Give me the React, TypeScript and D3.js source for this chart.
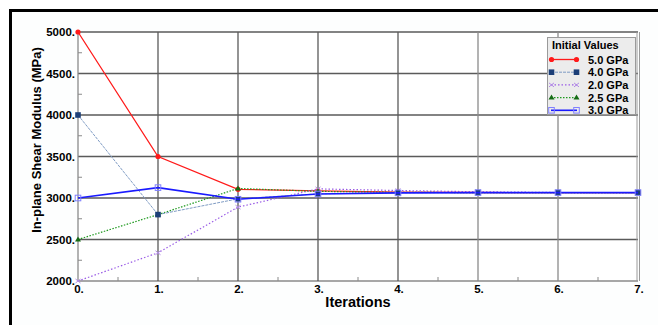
import React from "react";
import * as d3 from "d3";

// iterations on the x axis
const iterations = [0, 1, 2, 3, 4, 5, 6, 7];

// in-plane shear modulus (MPa) per starting value
const g50 = [5000, 3500, 3105, 3085, 3070, 3066, 3065, 3065];
const g40 = [4000, 2800, 2990, 3050, 3062, 3065, 3065, 3065];
const g20 = [2000, 2340, 2890, 3110, 3090, 3075, 3066, 3065];
const g25 = [2500, 2800, 3115, 3080, 3068, 3065, 3065, 3065];
const g30 = [3000, 3125, 2985, 3048, 3062, 3065, 3065, 3065];

const seriesNames = ["5.0 GPa", "4.0 GPa", "2.0 GPa", "2.5 GPa", "3.0 GPa"];
const yTicks = [2000, 2500, 3000, 3500, 4000, 4500, 5000];
const xTicks = [0, 1, 2, 3, 4, 5, 6, 7];

const W = 658;
const H = 325;
const font = "'Liberation Sans', Arial, sans-serif";

type Style = {
  name: string;
  values: number[];
  line: string;
  width: number;
  dash?: string;
  marker: "circle" | "square" | "x" | "tri" | "opensq";
  mfill: string;
};

const series: Style[] = [
  { name: seriesNames[0], values: g50, line: "#ff1a1a", width: 1.3, marker: "circle", mfill: "#ff1a1a" },
  { name: seriesNames[2], values: g20, line: "#9a5ce6", width: 1.2, dash: "1.5,2", marker: "x", mfill: "#b38be6" },
  { name: seriesNames[3], values: g25, line: "#1f9a1f", width: 1.2, dash: "1.5,1.5", marker: "tri", mfill: "#146b14" },
  { name: seriesNames[1], values: g40, line: "#7f9cc4", width: 1, dash: "3,1", marker: "square", mfill: "#1c3f78" },
  { name: seriesNames[4], values: g30, line: "#1a1aff", width: 1.6, marker: "opensq", mfill: "#8080ff" },
];

const legendOrder = [0, 3, 1, 2, 4];

function Marker({ kind, x, y, color }: { kind: string; x: number; y: number; color: string }) {
  if (kind === "circle") return <circle cx={x} cy={y} r={2.6} fill={color} />;
  if (kind === "square") return <rect x={x - 2.8} y={y - 2.8} width={5.6} height={5.6} fill={color} />;
  if (kind === "opensq")
    return <rect x={x - 2.8} y={y - 2.8} width={5.6} height={5.6} fill="none" stroke={color} strokeWidth={1} />;
  if (kind === "tri")
    return <path d={`M${x},${y - 3}L${x + 3},${y + 2}L${x - 3},${y + 2}Z`} fill={color} />;
  return (
    <path d={`M${x - 2.5},${y - 2}L${x + 2.5},${y + 2}M${x - 2.5},${y + 2}L${x + 2.5},${y - 2}`} stroke={color} strokeWidth={1} />
  );
}

export default function App() {
  const x = d3.scaleLinear().domain([0, 7]).range([78, 638]);
  const y = d3.scaleLinear().domain([2000, 5000]).range([281, 32]);
  const line = d3
    .line<number>()
    .x((_, i) => x(iterations[i]))
    .y((d) => y(d));

  const minorY = d3.range(2250, 5000, 500);
  const minorX = d3.range(0.5, 7, 1);

  return (
    <svg width={W} height={H} style={{ position: "absolute", left: 0, top: 0 }} fontFamily={font}>
      <rect x={0} y={0} width={W} height={H} fill="#fff" />
      <rect x={10.5} y={10.5} width={700} height={400} fill="#fdfefe" stroke="#000" strokeWidth={3} />
      <rect x={x(0)} y={y(5000)} width={x(7) - x(0)} height={y(2000) - y(5000)} fill="#fff" />

      {/* grid */}
      {yTicks.map((t) => (
        <line key={"gy" + t} x1={x(0)} x2={x(7)} y1={y(t)} y2={y(t)} stroke={t === 2000 ? "#8a8a8a" : "#5a5a5a"} strokeWidth={1.3} />
      ))}
      {xTicks.slice(1, 7).map((t) => (
        <line key={"gx" + t} x1={x(t)} x2={x(t)} y1={y(5000)} y2={y(2000)} stroke={t >= 5 ? "#8a8a8a" : "#5a5a5a"} strokeWidth={1.3} />
      ))}
      <line x1={x(0)} x2={x(0)} y1={y(5000)} y2={y(2000)} stroke="#8a8a8a" strokeWidth={1.3} />
      <line x1={x(7) - 1} x2={x(7) - 1} y1={y(5000)} y2={y(2000)} stroke="#9a9a9a" strokeWidth={1} />
      <line x1={x(7) + 1.5} x2={x(7) + 1.5} y1={y(5000)} y2={y(2000)} stroke="#9a9a9a" strokeWidth={1} />
      {minorY.map((t) => (
        <line key={"my" + t} x1={x(0)} x2={x(0) + 4} y1={y(t)} y2={y(t)} stroke="#8a8a8a" />
      ))}
      {minorX.map((t) => (
        <line key={"mx" + t} x1={x(t)} x2={x(t)} y1={y(2000)} y2={y(2000) - 4} stroke="#8a8a8a" />
      ))}

      {/* tick labels */}
      {yTicks.map((t) => (
        <text key={"ly" + t} x={x(0) - 3} y={y(t) + 4} textAnchor="end" fontSize={11.5} fontWeight="bold">
          {t}.
        </text>
      ))}
      {xTicks.map((t) => (
        <text key={"lx" + t} x={x(t) + 1} y={y(2000) + 12} textAnchor="middle" fontSize={11.5} fontWeight="bold">
          {t}.
        </text>
      ))}

      {/* axis titles */}
      <text transform={`translate(41,140) rotate(-90)`} textAnchor="middle" fontSize={13} fontWeight="bold">
        In-plane Shear Modulus (MPa)
      </text>
      <text x={358} y={307} textAnchor="middle" fontSize={14.5} fontWeight="bold">
        Iterations
      </text>

      {/* series */}
      {series.map((s) => (
        <g key={s.name}>
          <path d={line(s.values) || ""} fill="none" stroke={s.line} strokeWidth={s.width} strokeDasharray={s.dash} />
          {s.values.map((v, i) => (
            <Marker key={i} kind={s.marker} x={x(iterations[i])} y={y(v)} color={s.mfill} />
          ))}
        </g>
      ))}

      {/* legend */}
      <rect x={547.5} y={37.5} width={88} height={77} fill="#ececec" stroke="#9a9a9a" />
      <text x={552} y={49} fontSize={11} fontWeight="bold">
        Initial Values
      </text>
      {legendOrder.map((si, k) => {
        const s = series[si];
        const cy = 59.5 + k * 12.7;
        return (
          <g key={"lg" + s.name}>
            <line x1={551} x2={577} y1={cy} y2={cy} stroke={s.line} strokeWidth={s.width} strokeDasharray={s.dash} />
            <Marker kind={s.marker} x={551.5} y={cy} color={s.mfill} />
            <Marker kind={s.marker} x={576.5} y={cy} color={s.mfill} />
            <text x={588} y={cy + 4} fontSize={11} fontWeight="bold">
              {s.name}
            </text>
          </g>
        );
      })}
    </svg>
  );
}
